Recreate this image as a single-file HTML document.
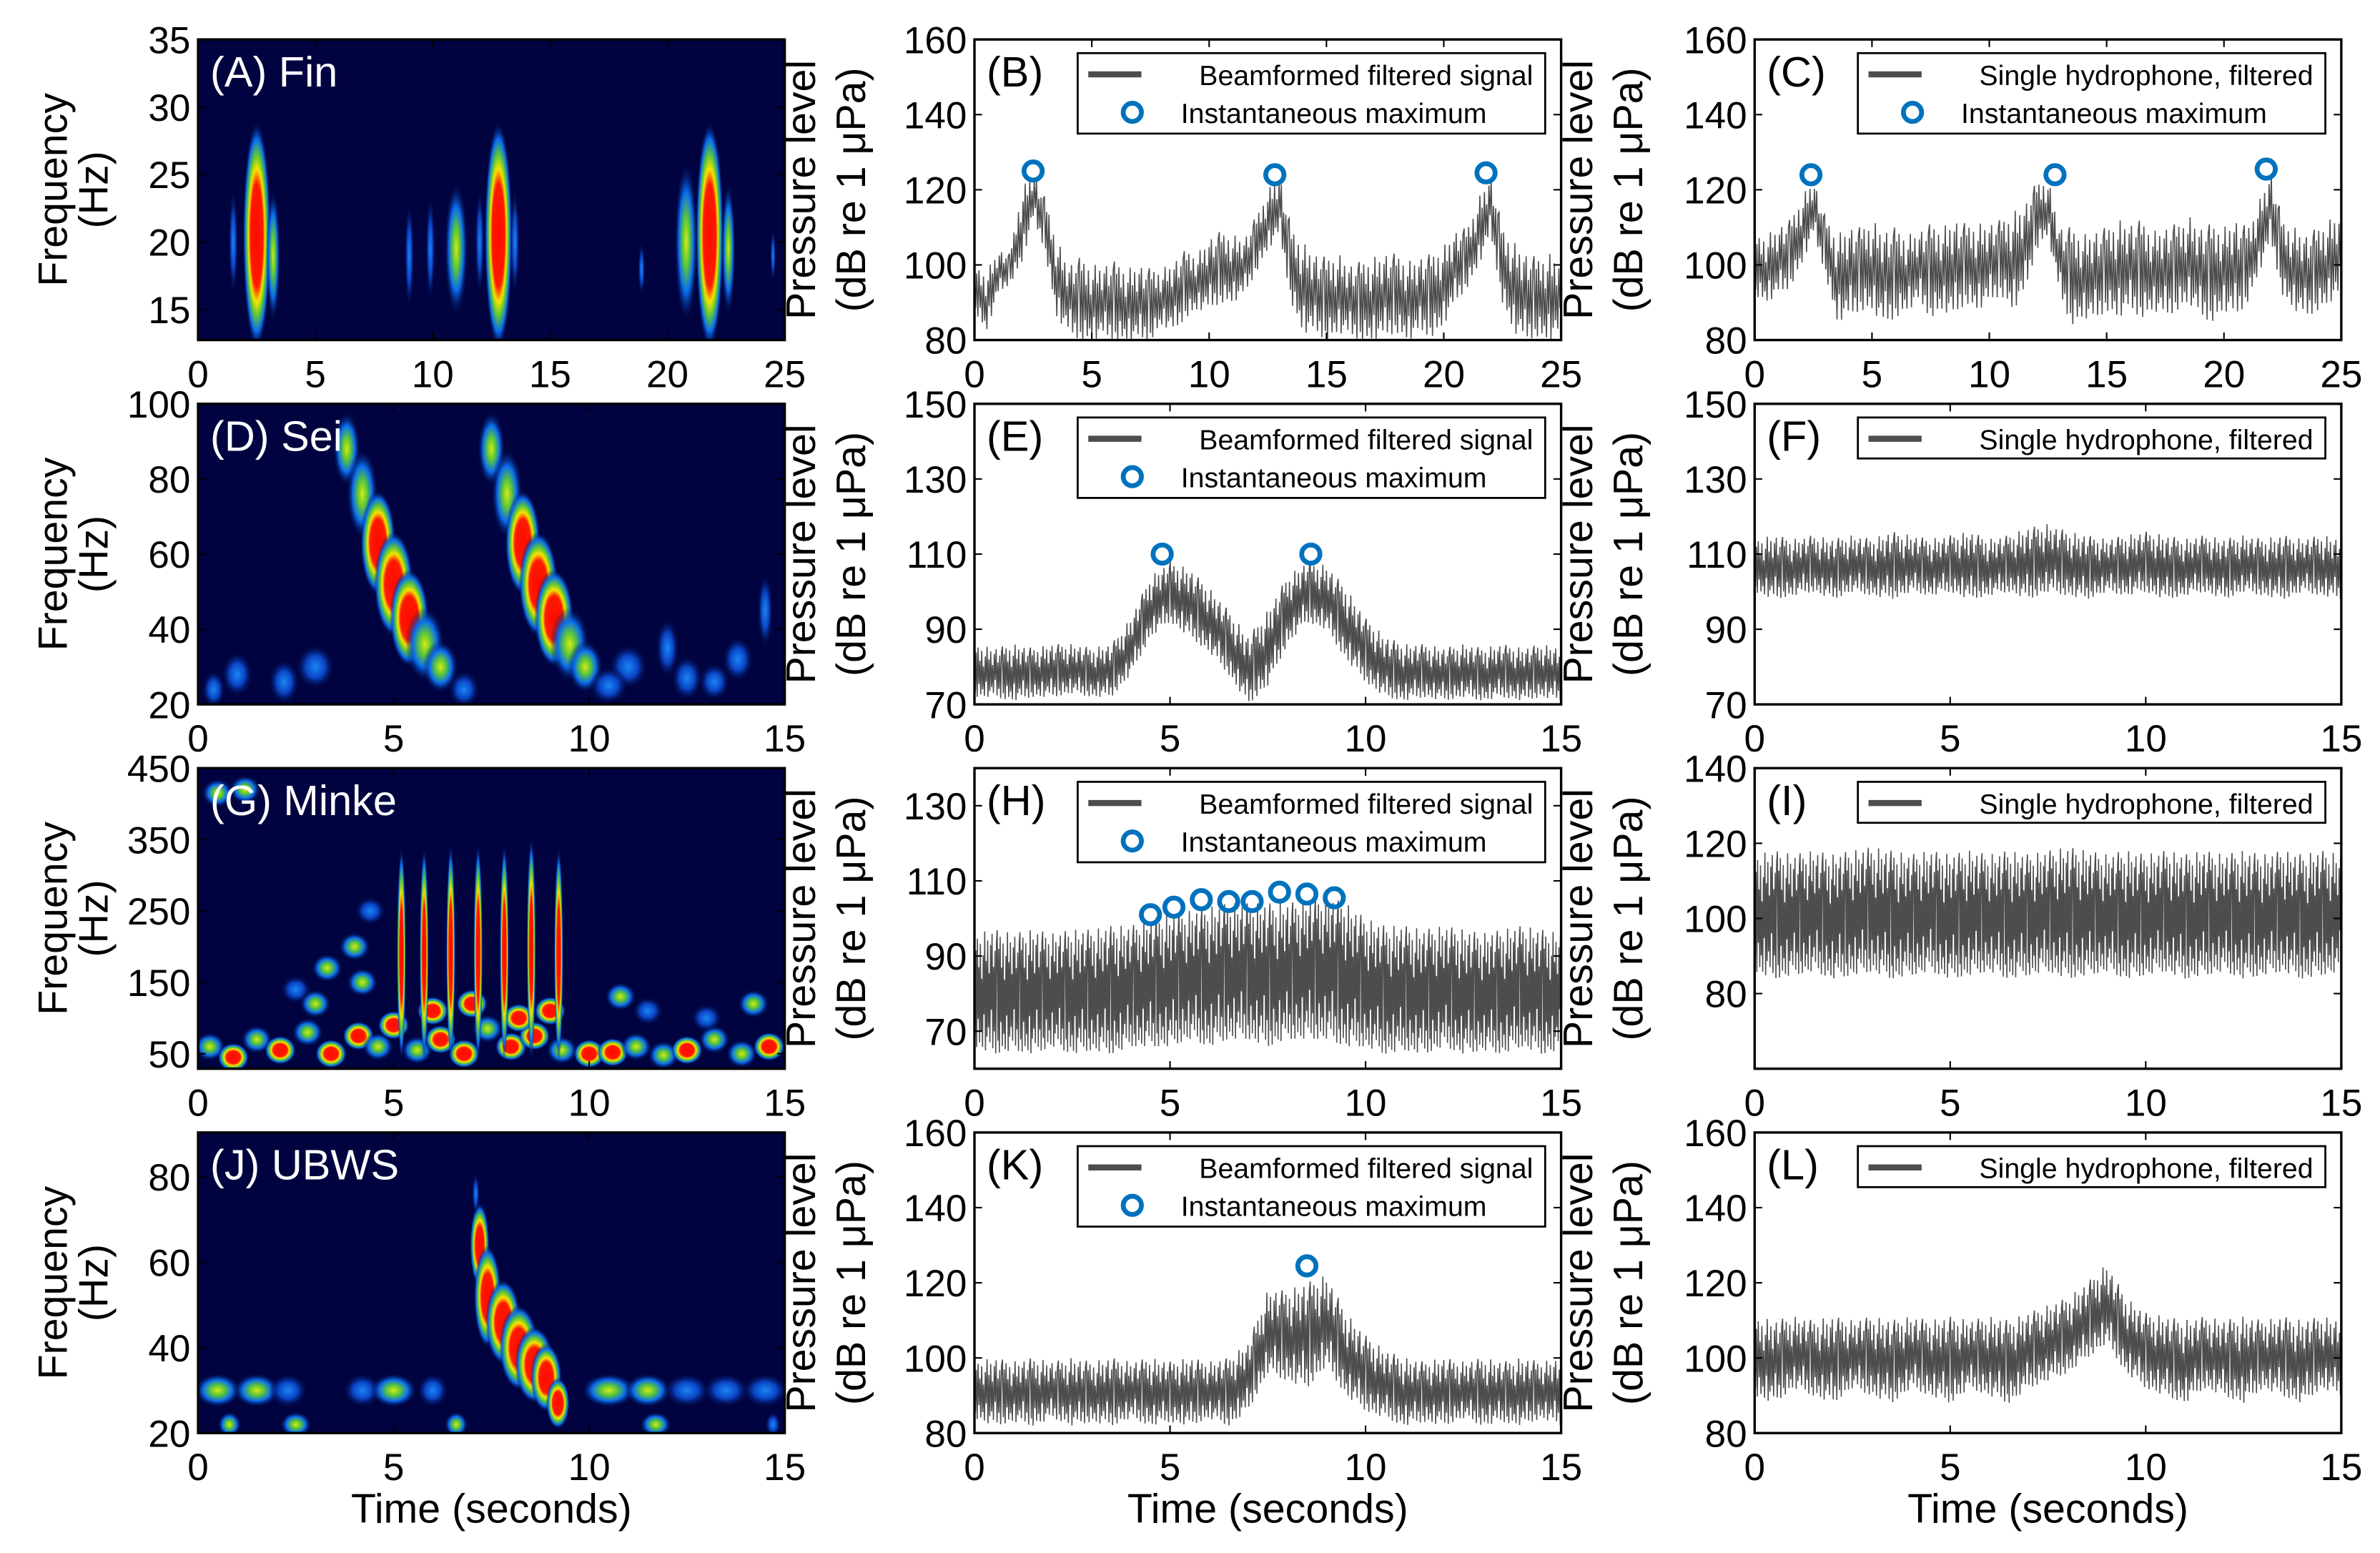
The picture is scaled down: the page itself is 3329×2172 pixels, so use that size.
<!DOCTYPE html>
<html><head><meta charset="utf-8"><style>
html,body{margin:0;padding:0;background:#fff;}
svg{display:block;}
text{font-family:"Liberation Sans",sans-serif;}
</style></head><body>
<svg id="fig" xmlns="http://www.w3.org/2000/svg" width="3329" height="2172" viewBox="0 0 1568 1023" preserveAspectRatio="none">
<defs>
<radialGradient id="g3"><stop offset="0" stop-color="#ff0a00"/><stop offset="0.45" stop-color="#ff1a00"/><stop offset="0.58" stop-color="#f5e400"/><stop offset="0.7" stop-color="#5cc838"/><stop offset="0.84" stop-color="#0a6cf0"/><stop offset="1" stop-color="#00033f" stop-opacity="0"/></radialGradient>
<radialGradient id="g2"><stop offset="0" stop-color="#d8e818"/><stop offset="0.3" stop-color="#5cc838"/><stop offset="0.62" stop-color="#0a6cf0"/><stop offset="1" stop-color="#00033f" stop-opacity="0"/></radialGradient>
<radialGradient id="g1"><stop offset="0" stop-color="#1a86f4"/><stop offset="0.5" stop-color="#0a44c4"/><stop offset="1" stop-color="#00033f" stop-opacity="0"/></radialGradient>
</defs>
</svg>
<script>
// ---------------- data ----------------
const bUpper=[100,98,104,103,120,125,118,107,100,102,100,100,101,99,100,99,99,101,104,103,107,109,108,107,113,120,124,110,106,103,102,103,100,101,102,103,103,101,102,103,105,109,110,118,124,110,106,103,102,103,101];
const bLower=[88,82,92,95,100,112,104,86,82,80,80,81,80,80,80,80,84,82,86,88,88,90,90,92,98,104,108,90,82,82,80,82,81,80,80,81,82,80,82,81,84,90,94,100,108,90,82,80,81,80,82];
const cUpper=[108,108,110,112,118,123,113,108,110,110,112,109,110,108,109,111,110,112,111,111,111,112,114,116,122,123,110,110,108,109,110,112,111,112,109,110,111,113,110,111,110,112,110,117,125,112,110,108,110,112,114];
const cLower=[92,90,92,94,100,108,98,85,86,88,88,84,86,88,90,86,88,86,90,88,90,92,88,92,104,108,92,84,86,85,88,86,88,86,88,86,88,90,86,85,88,86,90,98,106,92,88,86,88,90,92];
const eUpper=[86,85,86,85,86,86,85,86,93,104,108,106,101,95,88,95,104,108,107,101,93,88,86,86,85,86,85,86,85,86,85];
const eLower=[72,72,71,72,72,73,72,72,78,88,92,88,84,78,70,75,86,92,90,82,76,72,71,72,71,72,71,72,71,72,71];
const fUpper=[114,115,114,115,114,115,114,116,115,114,115,116,114,115,117,118,116,115,114,115,116,115,114,115,114,115,114,115,114,115,114];
const fLower=[100,98,99,100,98,100,99,98,100,99,100,98,99,100,98,100,99,98,100,99,100,98,99,100,98,100,99,98,100,99,98];
const hUpper=[96,97,96,97,96,97,97,98,98,100,101,102,103,104,104,104,104,105,106,104,100,98,98,97,98,97,96,97,98,97,96];
const hLower=[66,64,65,64,66,64,65,64,66,66,66,68,66,68,68,66,68,68,68,66,66,64,65,64,66,64,65,64,66,64,65];
const iUpper=[117,118,117,118,117,118,119,118,117,118,117,118,117,118,117,118,119,118,117,118,117,118,117,118,117,118,117,118,117,118,117];
const iLower=[86,84,85,86,84,85,86,84,85,86,84,85,86,84,85,86,84,85,86,84,85,86,84,85,86,84,85,86,84,85,86];
const kUpper=[99,100,99,100,99,100,99,100,99,100,99,100,99,100,104,118,118,120,122,112,106,102,100,99,100,99,100,99,100,99,100];
const kLower=[84,82,83,82,84,82,83,82,84,82,83,82,84,82,86,96,94,92,98,90,86,84,82,83,82,84,82,83,82,84,82];
const lUpper=[111,110,111,110,111,110,111,110,111,110,111,110,111,110,112,114,116,120,125,116,112,111,110,111,110,111,110,111,110,111,110];
const lLower=[90,88,92,90,88,92,90,88,92,90,88,92,90,88,92,94,96,100,104,96,92,90,88,92,90,88,92,90,88,92,90];
const bMaxT=[2.5,12.8,21.8]; const bMaxV=[125,124,124.5];
const cMaxT=[2.4,12.8,21.8]; const cMaxV=[124,124,125.5];
const eMaxT=[4.8,8.6]; const eMaxV=[110,110];
const hMaxT=[4.5,5.1,5.8,6.5,7.1,7.8,8.5,9.2]; const hMaxV=[101,103,105,104.5,104.5,107,106.5,105.5];
const kMaxT=[8.5]; const kMaxV=[124.5];
const aT=[2.5,12.8,21.8,3.2,11.0,20.8,22.6,1.5,9.0,9.9,12.0,18.9,24.5,13.5];
const aF=[20.5,20.5,20.5,19.0,19.5,20.0,19.5,20.0,19.0,19.5,20.0,18.0,19.0,20];
const aDT=[0.6,0.6,0.6,0.3,0.5,0.5,0.3,0.2,0.2,0.2,0.2,0.15,0.12,0.2];
const aDF=[8.5,8.5,8.5,5,5,6,5,4,4,4,4,2,2,4];
const aL=[3,3,3,2,2,2,2,1,1,1,1,1,1,1];
const dT=[3.8,4.2,4.6,5.0,5.4,5.8,6.2,7.5,7.9,8.3,8.7,9.1,9.5,9.9,1.0,2.2,11.0,12.5,13.8,0.4,14.5,3.0,6.8,10.5,12.0,13.2];
const dF=[88,76,63,52,43,36,30,88,76,63,52,43,36,30,28,26,30,27,32,24,45,30,24,25,35,26];
const dDT=[0.35,0.4,0.45,0.5,0.5,0.5,0.45,0.35,0.4,0.45,0.5,0.5,0.5,0.45,0.4,0.4,0.5,0.4,0.4,0.3,0.2,0.5,0.4,0.5,0.3,0.4];
const dDF=[10,12,14,14,13,10,7,10,12,14,14,13,10,7,6,6,6,6,6,5,10,6,5,5,8,5];
const dL=[2,2,3,3,3,2,2,2,2,3,3,3,2,2,1,1,1,1,1,1,1,1,1,1,1,1];
const gStripeT=[5.2,5.78,6.46,7.16,7.83,8.52,9.22];
const gStripeTop=[340,340,345,345,345,355,340];
const gNoiseT=[0.3,0.9,1.5,2.1,2.8,3.4,4.1,4.6,5.0,5.6,6.2,6.8,7.4,8.0,8.6,9.3,10.0,10.6,11.2,11.9,12.5,13.2,13.9,14.6,2.5,3.3,4.0,4.4,3.0,4.2,0.5,1.2,6.0,7.0,8.2,9.0,10.8,11.5,14.2,13.0];
const gNoiseF=[60,45,70,55,80,50,75,60,90,55,70,50,85,60,75,55,50,52,60,48,55,70,50,60,140,170,200,250,120,150,415,420,110,120,100,110,130,110,120,100];
const gNoiseL=[2,3,2,3,2,3,3,2,3,2,3,3,2,3,3,2,3,3,2,2,3,2,2,3,1,2,2,1,2,2,2,2,3,3,3,3,2,1,2,1];
const jT=[7.2,7.4,7.8,8.2,8.6,8.9,9.2,7.1,0.5,1.5,2.3,4.2,5.0,6.0,10.5,11.5,12.5,13.5,14.5,0.8,2.5,6.6,11.7,14.7];
const jF=[64,52,46,40,36,33,27,76,30,30,30,30,30,30,30,30,30,30,30,22,22,22,22,22];
const jDT=[0.25,0.35,0.45,0.5,0.5,0.4,0.3,0.1,0.6,0.6,0.5,0.5,0.6,0.4,0.7,0.6,0.6,0.6,0.6,0.3,0.4,0.3,0.4,0.2];
const jDF=[10,12,10,10,9,8,6,5,4,4,4,4,4,4,4,4,4,4,4,3,3,3,3,3];
const jL=[3,3,3,3,3,3,3,1,2,2,1,1,2,1,2,2,1,1,1,2,2,2,2,1];

// ---------------- rendering ----------------
const NS='http://www.w3.org/2000/svg';
const svg=document.getElementById('fig');
function mk(tag,attrs,parent){const e=document.createElementNS(NS,tag);for(const k in attrs)e.setAttribute(k,attrs[k]);(parent||svg).appendChild(e);return e;}
const colX=[130.5,642,1156], rowY=[26,266,506,746], PW=386.5, PH=198;
// rendering texture pattern (fraction between lower/upper envelope)
const zig=[1,0.1,0.85,0,0.95,0.25,0.7,0.05,0.9,0.15,0.6,0.02,0.8,0.3,1,0.0,0.75,0.12,0.92,0.2,0.65,0.08,0.88,0.35,0.97,0.04,0.7,0.18,0.83,0.0,0.9];

function axes(name,x0,y0,xlim,ylim,xt,yt,dark){
  const g=mk('g',{});
  
  
  const sx=v=>x0+(v-xlim[0])/(xlim[1]-xlim[0])*PW;
  const sy=v=>y0+PH-(v-ylim[0])/(ylim[1]-ylim[0])*PH;
  const bg=mk('rect',{x:x0,y:y0,width:PW,height:PH,fill:dark?'#00033f':'#fff'},g);
  
  
  const clipId='c'+name;
  const cp=mk('clipPath',{id:clipId},g);
  mk('rect',{x:x0,y:y0,width:PW,height:PH},cp);
  const content=mk('g',{'clip-path':'url(#'+clipId+')'},g);
  return {g,sx,sy,content,x0,y0,xt,yt};
}
function frame(ax){
  const {g,sx,sy,x0,y0,xt,yt}=ax;
  const box=mk('rect',{x:x0,y:y0,width:PW,height:PH,fill:'none',stroke:'#000','stroke-width':1.6},g);
  
  
  xt.forEach(v=>{const x=sx(v);
    mk('line',{x1:x,y1:y0+PH,x2:x,y2:y0+PH-5,stroke:'#000','stroke-width':1},g);
    mk('line',{x1:x,y1:y0,x2:x,y2:y0+5,stroke:'#000','stroke-width':1},g);
    const t=mk('text',{x:x,y:y0+PH+31,'font-size':25,'text-anchor':'middle'},g);t.textContent=v;
    
    });
  yt.forEach(v=>{const y=sy(v);
    mk('line',{x1:x0,y1:y,x2:x0+5,y2:y,stroke:'#000','stroke-width':1},g);
    mk('line',{x1:x0+PW,y1:y,x2:x0+PW-5,y2:y,stroke:'#000','stroke-width':1},g);
    const t=mk('text',{x:x0-5,y:y+9,'font-size':25,'text-anchor':'end'},g);t.textContent=v;
    
    });
}
function blobs(ax,T,F,DT,DF,L){
  for(let i=0;i<T.length;i++){
    const cx=ax.sx(T[i]), cy=ax.sy(F[i]);
    const rx=Math.abs(ax.sx(T[i]+DT[i])-cx), ry=Math.abs(ax.sy(F[i]+DF[i])-cy);
    const e=mk('ellipse',{cx:cx,cy:cy,rx:rx,ry:ry,fill:'url(#g'+L[i]+')'},ax.content);
    
    
  }
}
function env(arr,t,tMax){const p=t/tMax*(arr.length-1);const i=Math.min(Math.floor(p),arr.length-2);const f=p-i;return arr[i]*(1-f)+arr[i+1]*f;}
function signal(ax,up,lo,tMax,n,name){
  let d='';
  for(let i=0;i<=n;i++){const t=i/n*tMax;const u=env(up,t,tMax),l=env(lo,t,tMax);const fr=zig[i%zig.length];const v=l+(u-l)*fr;
    d+=(i?'L':'M')+ax.sx(t).toFixed(2)+' '+ax.sy(v).toFixed(2);}
  const p=mk('path',{d:d,fill:'none',stroke:'#4d4d4d','stroke-width':0.75},ax.content);
  
  
}
function maxima(ax,T,V){
  for(let i=0;i<T.length;i++){
    const c=mk('circle',{cx:ax.sx(T[i]),cy:ax.sy(V[i]),r:6,fill:'none',stroke:'#0072bd','stroke-width':3.2},ax.g);
    
    
  }
}
function panelLabel(ax,txt,dark){
  const t=mk('text',{x:ax.x0+8,y:ax.y0+31,'font-size':28,fill:dark?'#fff':'#000'},ax.g);t.textContent=txt;
  
  
}
function legend(ax,text1,two){
  const lx=ax.x0+68, ly=ax.y0+9, lw=308, lh=two?53:27;
  const g=mk('g',{},ax.g);
  
  
  mk('rect',{x:lx,y:ly,width:lw,height:lh,fill:'#fff',stroke:'#000','stroke-width':1.3},g);
  mk('line',{x1:lx+7,y1:ly+14,x2:lx+42,y2:ly+14,stroke:'#4d4d4d','stroke-width':4},g);
  const t1=mk('text',{x:lx+lw-8,y:ly+21,'font-size':18.5,'text-anchor':'end'},g);t1.textContent=text1;
  
  
  if(two){
    mk('circle',{cx:lx+36,cy:ly+39,r:6,fill:'none',stroke:'#0072bd','stroke-width':3.2},g);
    const t2=mk('text',{x:lx+68,y:ly+46,'font-size':18.5},g);t2.textContent='Instantaneous maximum';
    
    
  }
}
function ylab(x,cy,l1,l2,gap){
  [l1,l2].forEach((s,k)=>{const xx=x+k*gap;
    const t=mk('text',{x:xx,y:cy,'font-size':27,'text-anchor':'middle',transform:'rotate(-90 '+xx+' '+cy+')'});t.textContent=s;
    
    });
}

const x25=[0,5,10,15,20,25], x15=[0,5,10,15];
let A=axes('panel-a-fin',colX[0],rowY[0],[0,25],[12.75,35],x25,[15,20,25,30,35],true);
blobs(A,aT,aF,aDT,aDF,aL); frame(A); panelLabel(A,'(A) Fin',true);
let B=axes('panel-b',colX[1],rowY[0],[0,25],[80,160],x25,[80,100,120,140,160],false);
signal(B,bUpper,bLower,25,520,'beamformed-signal-line'); frame(B); maxima(B,bMaxT,bMaxV); panelLabel(B,'(B)'); legend(B,'Beamformed filtered signal',true);
let C=axes('panel-c',colX[2],rowY[0],[0,25],[80,160],x25,[80,100,120,140,160],false);
signal(C,cUpper,cLower,25,520,'single-hydrophone-line'); frame(C); maxima(C,cMaxT,cMaxV); panelLabel(C,'(C)'); legend(C,'Single hydrophone, filtered',true);
let D=axes('panel-d-sei',colX[0],rowY[1],[0,15],[20,100],x15,[20,40,60,80,100],true);
blobs(D,dT,dF,dDT,dDF,dL); frame(D); panelLabel(D,'(D) Sei',true);
let E=axes('panel-e',colX[1],rowY[1],[0,15],[70,150],x15,[70,90,110,130,150],false);
signal(E,eUpper,eLower,15,650,'beamformed-signal-line'); frame(E); maxima(E,eMaxT,eMaxV); panelLabel(E,'(E)'); legend(E,'Beamformed filtered signal',true);
let F=axes('panel-f',colX[2],rowY[1],[0,15],[70,150],x15,[70,90,110,130,150],false);
signal(F,fUpper,fLower,15,650,'single-hydrophone-line'); frame(F); panelLabel(F,'(F)'); legend(F,'Single hydrophone, filtered',false);
let G=axes('panel-g-minke',colX[0],rowY[2],[0,15],[29,450],x15,[50,150,250,350,450],true);
blobs(G,gNoiseT,gNoiseF,gNoiseT.map(()=>0.4),gNoiseF.map(()=>20),gNoiseL);
for(let i=0;i<gStripeT.length;i++){
  const top=gStripeTop[i], mid=(top+40)/2;
  const cx=G.sx(gStripeT[i]), cy=G.sy(mid), ry=Math.abs(G.sy(top)-cy);
  const e=mk('ellipse',{cx:cx,cy:cy,rx:3,ry:ry,fill:'url(#g3)'},G.content);
  
  
}
frame(G); panelLabel(G,'(G) Minke',true);
let H=axes('panel-h',colX[1],rowY[2],[0,15],[60,140],x15,[70,90,110,130],false);
signal(H,hUpper,hLower,15,800,'beamformed-signal-line'); frame(H); maxima(H,hMaxT,hMaxV); panelLabel(H,'(H)'); legend(H,'Beamformed filtered signal',true);
let I=axes('panel-i',colX[2],rowY[2],[0,15],[60,140],x15,[80,100,120,140],false);
signal(I,iUpper,iLower,15,800,'single-hydrophone-line'); frame(I); panelLabel(I,'(I)'); legend(I,'Single hydrophone, filtered',false);
let J=axes('panel-j-ubws',colX[0],rowY[3],[0,15],[20,90.4],x15,[20,40,60,80],true);
blobs(J,jT,jF,jDT,jDF,jL); frame(J); panelLabel(J,'(J) UBWS',true);
let K=axes('panel-k',colX[1],rowY[3],[0,15],[80,160],x15,[80,100,120,140,160],false);
signal(K,kUpper,kLower,15,650,'beamformed-signal-line'); frame(K); maxima(K,kMaxT,kMaxV); panelLabel(K,'(K)'); legend(K,'Beamformed filtered signal',true);
let L=axes('panel-l',colX[2],rowY[3],[0,15],[80,160],x15,[80,100,120,140,160],false);
signal(L,lUpper,lLower,15,650,'single-hydrophone-line'); frame(L); panelLabel(L,'(L)'); legend(L,'Single hydrophone, filtered',false);

rowY.forEach(y=>{const cy=y+PH/2;
  ylab(44,cy,'Frequency','(Hz)',27);
  ylab(537,cy,'Pressure level','(dB re 1 \u03bcPa)',33);
  ylab(1049,cy,'Pressure level','(dB re 1 \u03bcPa)',33);
});
colX.forEach(x=>{const t=mk('text',{x:x+PW/2,y:1003,'font-size':27,'text-anchor':'middle'});t.textContent='Time (seconds)';
  
  });
</script>
</body></html>
